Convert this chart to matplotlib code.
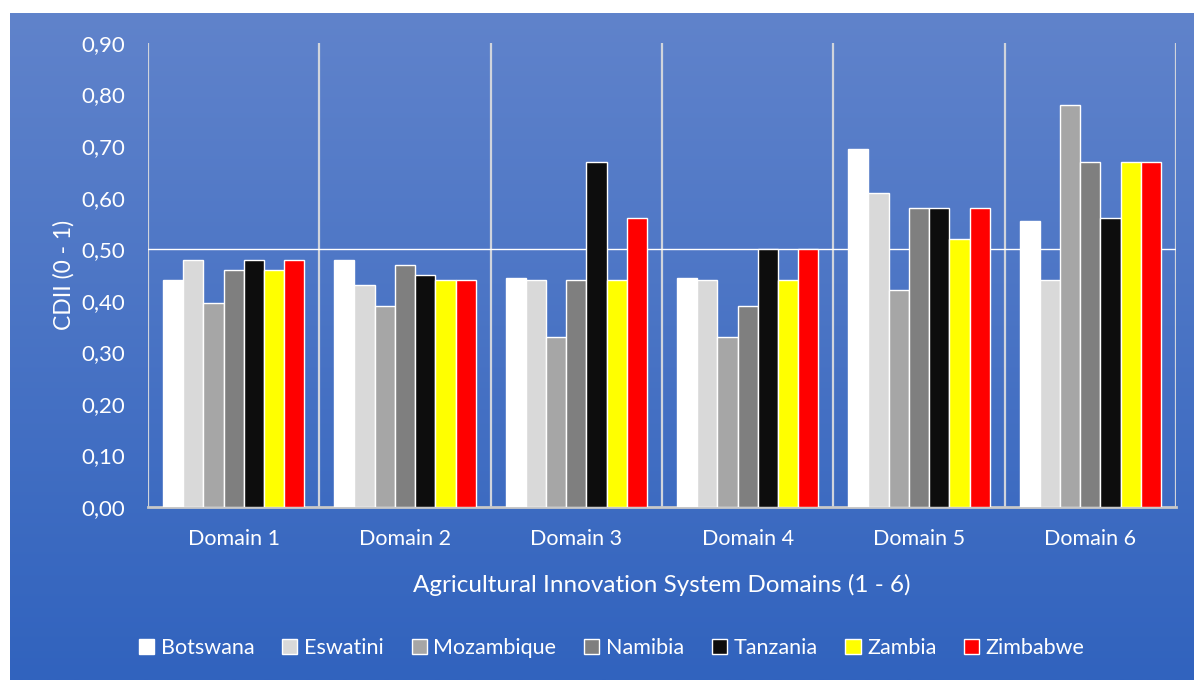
import numpy as np
import matplotlib
matplotlib.use("Agg")
import matplotlib.pyplot as plt
from matplotlib.patches import Patch
from matplotlib.colors import LinearSegmentedColormap

domains = ["Domain 1", "Domain 2", "Domain 3", "Domain 4", "Domain 5", "Domain 6"]
countries = ["Botswana", "Eswatini", "Mozambique", "Namibia", "Tanzania", "Zambia", "Zimbabwe"]
botswana   = [0.44, 0.48, 0.445, 0.445, 0.695, 0.555]
eswatini   = [0.48, 0.43, 0.44, 0.44, 0.61, 0.44]
mozambique = [0.395, 0.39, 0.33, 0.33, 0.42, 0.78]
namibia    = [0.46, 0.47, 0.44, 0.39, 0.58, 0.67]
tanzania   = [0.48, 0.45, 0.67, 0.50, 0.58, 0.56]
zambia     = [0.46, 0.44, 0.44, 0.44, 0.52, 0.67]
zimbabwe   = [0.48, 0.44, 0.56, 0.50, 0.58, 0.67]
series = [botswana, eswatini, mozambique, namibia, tanzania, zambia, zimbabwe]
colors = ["#FFFFFF", "#D9D9D9", "#A6A6A6", "#7F7F7F", "#0D0D0D", "#FFFF00", "#FF0000"]
yticks = [0.0, 0.1, 0.2, 0.3, 0.4, 0.5, 0.6, 0.7, 0.8, 0.9]

plt.rcParams['font.family'] = ['Lato', 'DejaVu Sans']

W, H = 1194, 680
fig = plt.figure(figsize=(W / 100, H / 100), dpi=100)
fig.patch.set_facecolor("white")

# background gradient panel
bg = fig.add_axes([10 / W, 0, 1 - 10 / W, 1 - 13 / H], zorder=0)
cmap = LinearSegmentedColormap.from_list("g", ["#3163BE", "#6083CB"])
grad = np.linspace(0, 1, 256).reshape(-1, 1)
bg.imshow(grad, aspect="auto", cmap=cmap, origin="lower", extent=[0, 1, 0, 1])
bg.set_axis_off()

ax = fig.add_axes([148 / W, 1 - 507 / H, (1176 - 148) / W, (507 - 43) / H], zorder=1)
ax.patch.set_alpha(0)

n = len(series)
bw = 0.118
x = np.arange(len(domains))
for i, (vals, c) in enumerate(zip(series, colors)):
    ax.bar(x + (i - (n - 1) / 2) * bw, vals, bw, color=c, edgecolor="white",
           linewidth=1.0, zorder=3)

ax.set_xlim(-0.5, len(domains) - 0.5)
ax.set_ylim(0, 0.9)
ax.set_yticks(yticks)
ax.set_yticklabels([f"{v:.2f}".replace(".", ",") for v in yticks])
ax.set_xticks(x)
ax.set_xticklabels(domains)
ax.set_xticks(np.arange(-0.5, len(domains), 1.0), minor=True)
ax.tick_params(axis="both", which="both", length=0, colors="white")
ax.tick_params(axis="x", labelsize=15.5, pad=16)
ax.tick_params(axis="y", labelsize=16, pad=16.5)
ax.grid(axis="x", which="minor", color="#D0D4DC", linewidth=1.6, zorder=1)
ax.axhline(0.5, color="white", linewidth=1.0, zorder=2)
for s in ["top", "right"]:
    ax.spines[s].set_visible(False)
ax.spines["left"].set_visible(False)
ax.spines["bottom"].set_color("#C8C8C8")
ax.spines["bottom"].set_linewidth(2)

ax.set_ylabel("CDII (0 - 1)", color="white", fontsize=16.5, labelpad=5)
ax.set_xlabel("Agricultural Innovation System Domains (1 - 6)", color="white",
              fontsize=17.5, labelpad=18)

handles = [Patch(facecolor=c, edgecolor="white", linewidth=1.0) for c in colors]
leg = fig.legend(handles, countries, loc="center", bbox_to_anchor=(612 / W, 1 - 648 / H),
                 ncol=7, frameon=False, fontsize=15.5, handlelength=0.7, handleheight=0.7,
                 handletextpad=0.3, columnspacing=1.3)
for t in leg.get_texts():
    t.set_color("white")

fig.savefig("out.png", dpi=100)
